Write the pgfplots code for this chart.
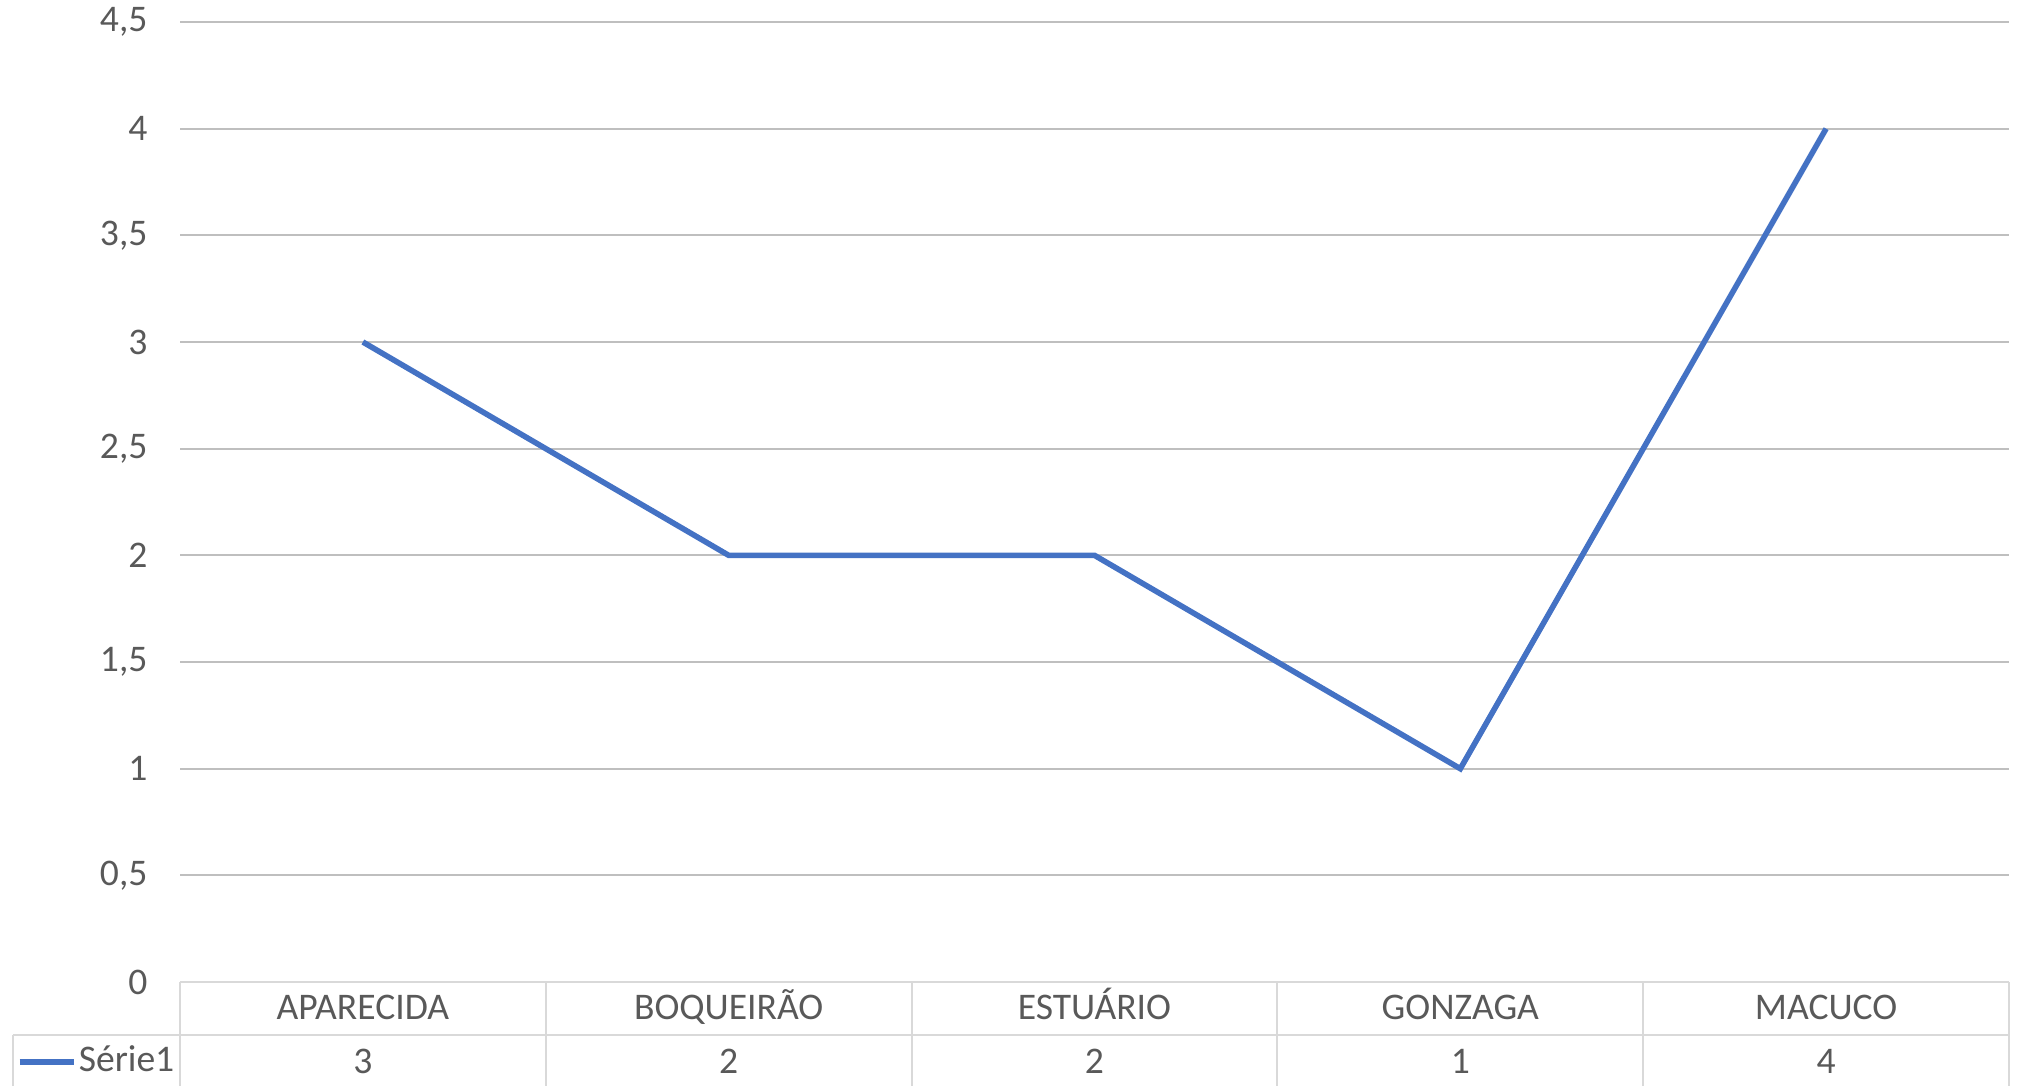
\documentclass[border=0pt]{standalone}
\usepackage{pgfplots}
\pgfplotsset{compat=1.18}
\usepackage{fontspec}
\setmainfont{Carlito}
\definecolor{txt}{HTML}{595959}
\definecolor{grid}{HTML}{D9D9D9}
\definecolor{serie}{HTML}{4472C4}
\begin{document}
\begin{tikzpicture}
\begin{axis}[
    at={(45pt,25.75pt)}, anchor=south west,
    scale only axis,
    width=457.25pt, height=240pt,
    xmin=-0.5, xmax=4.5,
    ymin=0, ymax=4.5,
    ytick={0,0.5,...,4.5},
    xtick={0,1,2,3,4},
    xticklabels={APARECIDA, BOQUEIRÃO, ESTUÁRIO, GONZAGA, MACUCO},
    xticklabel style={anchor=base, yshift=-9.4pt,
        font=\fontsize{9.4}{11}\selectfont, text=txt},
    extra x ticks={0,1,2,3,4},
    extra x tick labels={3,2,2,1,4},
    extra x tick style={xticklabel style={yshift=-13.5pt}},
    yticklabel style={font=\fontsize{9.4}{11}\selectfont, text=txt, xshift=-4.6pt},
    /pgf/number format/.cd, use comma, fixed, assume math mode=true, /pgfplots/.cd,
    xmajorgrids=false, ymajorgrids, grid style={grid, line width=0.5pt},
    major tick length=0pt, tick style={draw=none},
    axis line style={draw=none},
    clip=false,
    legend style={at={(0,0)}, anchor=west, xshift=-41pt, yshift=-20pt,
        draw=none, fill=none, inner sep=0pt,
        font=\fontsize{9.4}{11}\selectfont, text=txt,
        nodes={inner sep=0.6pt}},
    legend image code/.code={\draw[#1] (0pt,0pt) -- (13.5pt,0pt);},
]
\addplot[serie, line width=1.4pt] coordinates {
    (0,3) (1,2) (2,2) (3,1) (4,4)
};
\addlegendentry{Série1}
% data table grid
\draw[grid, line width=0.5pt] (axis cs:-0.5,0) -- (axis cs:4.5,0);
\draw[grid, line width=0.5pt] ([xshift=-41.75pt,yshift=-13.25pt]axis cs:-0.5,0) -- ([yshift=-13.25pt]axis cs:4.5,0);
\pgfplotsinvokeforeach{-0.5,0.5,1.5,2.5,3.5,4.5}{
    \draw[grid, line width=0.5pt] (axis cs:#1,0) -- ([yshift=-30pt]axis cs:#1,0);
}
\draw[grid, line width=0.5pt] ([xshift=-41.75pt,yshift=-13.25pt]axis cs:-0.5,0) -- ([xshift=-41.75pt,yshift=-33.25pt]axis cs:-0.5,0);
\end{axis}
\pgfresetboundingbox
\path (0,0) rectangle (504.75pt,271.25pt);
\end{tikzpicture}
\end{document}
